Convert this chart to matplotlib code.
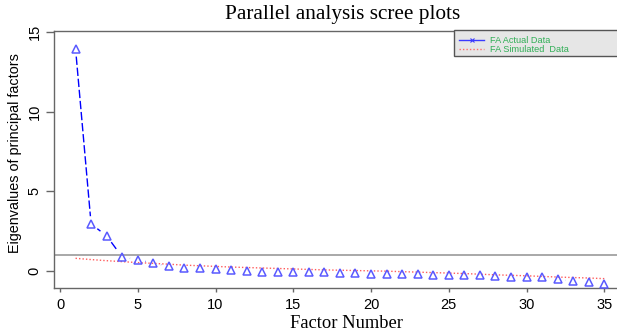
import numpy as np
import matplotlib
matplotlib.use("Agg")
import matplotlib.pyplot as plt
from matplotlib.lines import Line2D
from matplotlib.patches import Rectangle

factors = list(range(1, 36))
actual = [13.96, 2.94, 2.19, 0.86, 0.70, 0.47, 0.28, 0.19, 0.15, 0.13,
          0.04, -0.02, -0.06, -0.07, -0.07, -0.08, -0.10, -0.12, -0.17, -0.21,
          -0.23, -0.21, -0.23, -0.25, -0.25, -0.27, -0.29, -0.35, -0.38, -0.40,
          -0.42, -0.54, -0.67, -0.73, -0.82]
simulated = [0.78, 0.70, 0.63, 0.57, 0.51, 0.46, 0.41, 0.35, 0.31, 0.27,
             0.23, 0.20, 0.17, 0.14, 0.11, 0.08, 0.05, 0.03, 0.01, -0.01,
             -0.03, -0.06, -0.09, -0.12, -0.15, -0.18, -0.22, -0.26, -0.29, -0.32,
             -0.36, -0.40, -0.43, -0.46, -0.50]
xticks = [0, 5, 10, 15, 20, 25, 30, 35]
yticks = [0, 5, 10, 15]
ref_line = 1.0
legend_labels = ["FA Actual Data", "FA Simulated  Data"]

W, H = 617, 333
fig = plt.figure(figsize=(W / 100, H / 100), dpi=100)
left_px, right_px, top_px, bot_px = 54, 622, 31, 288
ax = fig.add_axes([left_px / W, 1 - bot_px / H, (right_px - left_px) / W, (bot_px - top_px) / H])

px_per_x = (604.3 - 60) / 35
px_per_y = (270.7 - 32.3) / 15
ax.set_xlim(-(60 - left_px) / px_per_x, 35 + (right_px - 604.3) / px_per_x)
ax.set_ylim(-(bot_px - 270.7) / px_per_y, 15 + (32.3 - top_px) / px_per_y)

frame_c = "#666666"
for s in ["left", "bottom", "top"]:
    ax.spines[s].set_color(frame_c)
    ax.spines[s].set_linewidth(1.0)
ax.spines["right"].set_visible(False)

ax.set_xticks(xticks)
ax.set_yticks(yticks)
ax.tick_params(axis="x", length=3.2, width=1, color=frame_c, labelsize=10.5, pad=4)
ax.tick_params(axis="y", length=5.8, width=1, color=frame_c, labelsize=10.5, pad=3,
               labelrotation=90)
for lab in ax.get_yticklabels():
    lab.set_va("center")
for lab in ax.get_xticklabels() + ax.get_yticklabels():
    lab.set_family("Liberation Sans")

# reference line
ax.axhline(ref_line, color="#9a9a9a", lw=1.2, zorder=1)

# simulated
ax.plot(factors, simulated, color="#ff5c5c", lw=1.0, ls=(0, (1, 1.5)), zorder=2)

# actual: type "b" style lines with gaps around points
fig.canvas.draw()
pts = ax.transData.transform(np.column_stack([factors, actual]))
gap = 7.8
inv = ax.transData.inverted()
for i in range(len(pts) - 1):
    p0, p1 = pts[i], pts[i + 1]
    d = p1 - p0
    L = np.hypot(*d)
    if L <= 2 * gap:
        continue
    u = d / L
    a = inv.transform(p0 + u * gap)
    b = inv.transform(p1 - u * gap)
    ax.plot([a[0], b[0]], [a[1], b[1]], color="#0000ff", lw=1.0, ls=(0, (6, 2)), zorder=3)
ax.plot(factors, actual, ls="none", marker="^", ms=6, mfc="none", mec="#5a5aff",
        mew=1.1, zorder=4)

# legend
fig.patches.append(Rectangle((454 / W, 1 - 56 / H), 200 / W, 26 / H, transform=fig.transFigure,
                             facecolor="#e6e6e6", edgecolor="#555555", lw=1.0, zorder=5))
handles = [Line2D([], [], color="#3a3aff", lw=1.0, marker="x", ms=3.5, mew=0.8),
           Line2D([], [], color="#ff6a6a", lw=1.0, ls=(0, (1, 1.5)))]
leg = fig.legend(handles, legend_labels, loc="upper left",
                 bbox_to_anchor=(452 / W, 1 - 28.5 / H), bbox_transform=fig.transFigure,
                 frameon=False, labelcolor="#2fae55", handlelength=2.7,
                 handletextpad=0.6, labelspacing=0.0, borderpad=0.3,
                 prop={"family": "Liberation Sans", "size": 6.6})
leg.set_zorder(6)

# texts
fig.text(343 / W, 1 - 15 / H, "Parallel analysis scree plots", ha="center", va="center",
         family="Liberation Serif", fontsize=15.3)
fig.text(346 / W, 1 - 323 / H, "Factor Number", ha="center", va="center",
         family="Liberation Serif", fontsize=13.3)
fig.text(15 / W, 1 - 153 / H, "Eigenvalues of principal factors", ha="center", va="center",
         rotation=90, family="Liberation Sans", fontsize=10.4)

fig.savefig("out.png", dpi=100)
